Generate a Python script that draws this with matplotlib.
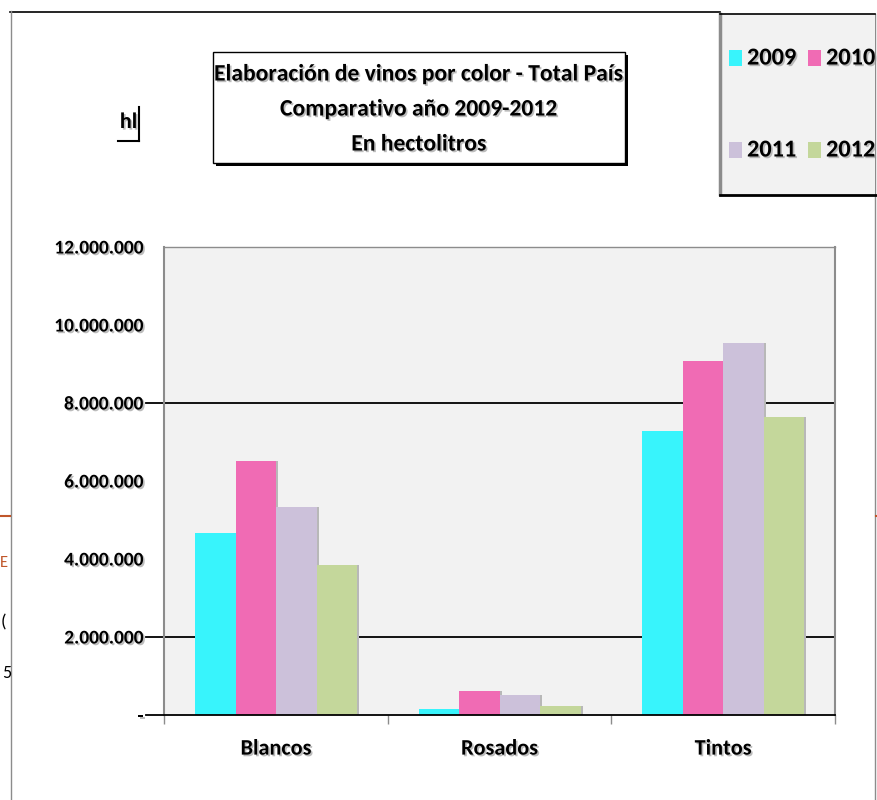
import matplotlib
matplotlib.use("Agg")
import matplotlib.pyplot as plt
import matplotlib.patheffects as pe
from matplotlib.patches import Rectangle
from matplotlib.lines import Line2D
import numpy as np

plt.rcParams['font.family'] = ['Carlito', 'DejaVu Sans']

categories = ["Blancos", "Rosados", "Tintos"]
years = ["2009", "2010", "2011", "2012"]
v2009 = [4670000, 150000, 7290000]
v2010 = [6520000, 620000, 9080000]
v2011 = [5330000, 510000, 9540000]
v2012 = [3850000, 230000, 7640000]
series = [v2009, v2010, v2011, v2012]
colors = ["#38F4FC", "#F06BB4", "#CCC1DA", "#C4D79B"]
yticks = [0, 2000000, 4000000, 6000000, 8000000, 10000000, 12000000]
ytick_labels = ["-", "2.000.000", "4.000.000", "6.000.000", "8.000.000", "10.000.000", "12.000.000"]
gridlines = [0, 2000000, 8000000]
title_lines = ["Elaboración de vinos por color - Total País", "Comparativo año 2009-2012", "En hectolitros"]

W, H = 878, 800
fig = plt.figure(figsize=(W / 100, H / 100), dpi=100)

def fx(px):
    return px / W

def fy(py):
    return 1 - py / H

shadow = [pe.withSimplePatchShadow(offset=(1.2, -1.2), shadow_rgbFace="#909090", alpha=0.6)]

# outer frame lines
fig.add_artist(Line2D([fx(10), fx(720)], [fy(11.5), fy(11.5)], color="black", lw=1.2))
fig.add_artist(Line2D([fx(10.7), fx(10.7)], [fy(11), fy(800)], color="#8C8C8C", lw=1.0))
fig.add_artist(Line2D([fx(875), fx(875)], [fy(14), fy(800)], color="#8C8C8C", lw=1.0))
# fragments of the underlying document
fig.add_artist(Line2D([fx(0), fx(10)], [fy(516), fy(516)], color="#C0562A", lw=1.5))
fig.add_artist(Line2D([fx(876), fx(878)], [fy(516), fy(516)], color="#C0562A", lw=1.5))
fig.text(fx(0), fy(563), "E", color="#C0562A", fontsize=12, va="center", ha="left")
fig.text(fx(1), fy(622), "(", color="black", fontsize=13, va="center", ha="left")
fig.text(fx(2), fy(673), "5", color="black", fontsize=13, va="center", ha="left")

L, R, T, B = 164.3, 835, 247, 715
ax = fig.add_axes([fx(L), fy(B), fx(R - L), (B - T) / H])
ax.set_facecolor("#F2F2F2")

n = len(series)
bw = 0.181
x = np.arange(len(categories))
for i, (vals, c) in enumerate(zip(series, colors)):
    offs = (i - (n - 1) / 2) * bw
    ax.bar(x + offs + 0.01, vals, bw, color="#B8B8B8", zorder=2)
    ax.bar(x + offs, vals, bw, color=c, zorder=3, label=years[i])

ax.set_xlim(-0.5, len(categories) - 0.5)
ax.set_ylim(0, 12000000)
for g in gridlines:
    ax.plot([-0.028, 1], [g, g], transform=ax.get_yaxis_transform(), color="black",
            lw=1.3, zorder=1 if g else 4, clip_on=False)

ax.set_yticks(yticks)
ax.set_yticklabels(ytick_labels, fontsize=14, fontweight="bold")
ax.set_xticks(x)
ax.set_xticklabels(categories, fontsize=16, fontweight="bold")
ax.set_xticks([-0.5, 0.5, 1.5, 2.5], minor=True)
ax.tick_params(axis="x", which="major", length=0, pad=17)
ax.tick_params(axis="x", which="minor", length=6.5, width=1.0, color="#8C8C8C", direction="out")
ax.tick_params(axis="y", length=0, pad=15)
for s in ["left", "right", "top"]:
    ax.spines[s].set_color("#8C8C8C")
    ax.spines[s].set_linewidth(1.5)
ax.spines["top"].set_linewidth(1.0)
ax.spines["bottom"].set_visible(False)
for lab in ax.get_xticklabels() + ax.get_yticklabels():
    lab.set_path_effects(shadow)

# title box with shadow
fig.add_artist(Rectangle((fx(216), fy(166)), fx(625 - 213), (163 - 52) / H, facecolor="black", edgecolor="none", zorder=1))
fig.add_artist(Rectangle((fx(213), fy(163)), fx(625 - 213), (163 - 52) / H, facecolor="white", edgecolor="black", lw=1.0, zorder=2))
for k, t in enumerate(title_lines):
    fig.text(fx(419), fy(74 + k * 35), t, ha="center", va="center", fontsize=17, fontweight="bold",
             zorder=3, path_effects=shadow)

# hl label
fig.text(fx(128.5), fy(122), "hl", ha="center", va="center", fontsize=16, fontweight="bold", path_effects=shadow)
fig.add_artist(Line2D([fx(139), fx(139)], [fy(107), fy(141)], color="black", lw=1.5))
fig.add_artist(Line2D([fx(118), fx(139)], [fy(141), fy(141)], color="black", lw=1.5))

# legend box
fig.add_artist(Rectangle((fx(719), fy(195)), fx(875 - 719), (195 - 14) / H, facecolor="#F2F2F2", edgecolor="none", zorder=2))
fig.add_artist(Line2D([fx(720), fx(720)], [fy(14), fy(194)], color="#8C8C8C", lw=2.5, zorder=3))
fig.add_artist(Line2D([fx(720), fx(878)], [fy(195), fy(195)], color="black", lw=2, zorder=3))
fig.add_artist(Line2D([fx(720), fx(875)], [fy(14), fy(14)], color="black", lw=1.2, zorder=3))
leg_pos = [(729, 58), (808, 58), (729, 150), (808, 150)]
for (px, py), yr, c in zip(leg_pos, years, colors):
    fig.add_artist(Rectangle((fx(px), fy(py + 8)), fx(13), 16 / H, facecolor=c, edgecolor="none", zorder=4))
    fig.text(fx(px + 18), fy(py), yr, ha="left", va="center", fontsize=17.5, fontweight="bold", zorder=4,
             path_effects=shadow)

fig.savefig("out.png", dpi=100)
